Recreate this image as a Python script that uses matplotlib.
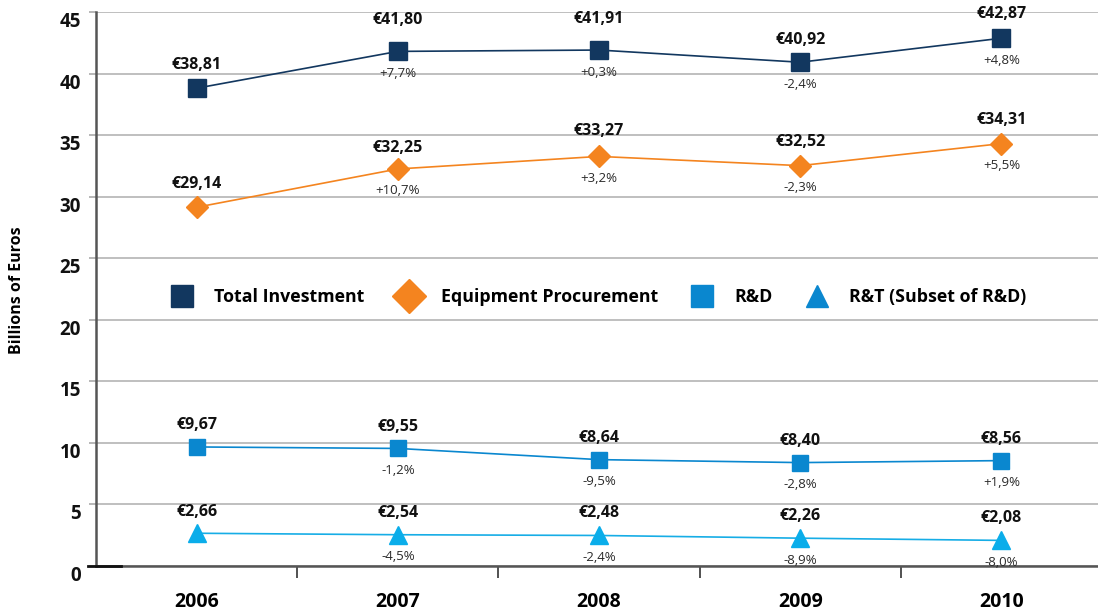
import matplotlib
matplotlib.use("Agg")
import matplotlib.pyplot as plt
from matplotlib.lines import Line2D

plt.rcParams['font.family'] = ['Open Sans', 'DejaVu Sans']

years = ["2006", "2007", "2008", "2009", "2010"]
total_investment = [38.81, 41.80, 41.91, 40.92, 42.87]
equipment_procurement = [29.14, 32.25, 33.27, 32.52, 34.31]
r_and_d = [9.67, 9.55, 8.64, 8.40, 8.56]
r_and_t = [2.66, 2.54, 2.48, 2.26, 2.08]

total_pct = ["", "+7,7%", "+0,3%", "-2,4%", "+4,8%"]
equip_pct = ["", "+10,7%", "+3,2%", "-2,3%", "+5,5%"]
rd_pct = ["", "-1,2%", "-9,5%", "-2,8%", "+1,9%"]
rt_pct = ["", "-4,5%", "-2,4%", "-8,9%", "-8,0%"]

yticks = [0, 5, 10, 15, 20, 25, 30, 35, 40, 45]

W, H = 1098, 612
fig = plt.figure(figsize=(W / 100, H / 100), dpi=100)
ax = fig.add_axes([96 / W, 1 - 566 / H, 1 - 96 / W, (566 - 12) / H])
x = list(range(len(years)))

px = 0.72  # points per pixel at 100 dpi

series = [
    ("Total Investment", total_investment, total_pct, "#12375f", "#12375f", "s", 12.5, [23, 31, 31, 22, 24]),
    ("Equipment Procurement", equipment_procurement, equip_pct, "#f4841f", "#f4841f", "D", 11, [23, 21, 25, 24, 24]),
    ("R&D", r_and_d, rd_pct, "#0a87cf", "#0a87cf", "s", 12, [22, 21, 22, 22, 22]),
    ("R&T (Subset of R&D)", r_and_t, rt_pct, "#16ade6", "#0aadea", "^", 12.5, [21, 22, 22, 22, 22]),
]

for name, vals, pcts, lc, mc, mk, ms, offs in series:
    ax.plot(x, vals, color=lc, lw=1.2, marker=mk, markersize=ms,
            markerfacecolor=mc, markeredgecolor=mc, zorder=3)
    for xi, v, p, o in zip(x, vals, pcts, offs):
        ax.annotate("€" + f"{v:.2f}".replace(".", ","), (xi, v),
                    xytext=(0, o * px), textcoords="offset points",
                    ha="center", va="center", fontsize=11.5, fontweight="bold",
                    color="#111111")
        if p:
            ax.annotate(p, (xi, v), xytext=(0, -22 * px), textcoords="offset points",
                        ha="center", va="center", fontsize=9.5, color="#2a2a2a")

# legend proxies
handles = []
leg_sizes = {"s": 15.5, "D": 17, "^": 16}
for name, vals, pcts, lc, mc, mk, ms, offs in series:
    legc = "#0a87cf" if mk == "^" else mc
    h = Line2D([], [], linestyle="none", marker=mk, markersize=leg_sizes[mk],
               markerfacecolor=legc, markeredgecolor=legc, label=name)
    handles.append(h)
leg = ax.legend(handles=handles, loc="center", bbox_to_anchor=(0.5, 0.486), ncol=4,
                frameon=False, prop={"weight": "bold", "size": 12.8},
                handletextpad=1.0, columnspacing=1.7, handlelength=1.6)

ax.set_xlim(-0.5, 4.48)
ax.set_ylim(0, 45)
ax.set_yticks(yticks)
ax.set_yticklabels([])
ax.tick_params(axis="y", length=5, color="#aaaaaa", width=1.2)
for t in yticks:
    ax.annotate(str(t), (0, t), xycoords=("axes fraction", "data"),
                xytext=(-15 * px, -10 * px), textcoords="offset points",
                ha="right", va="center", fontsize=13.5, fontweight="bold",
                color="#111111", annotation_clip=False)
ax.yaxis.grid(True, color="#b4b4b4", lw=1.2)
ax.set_axisbelow(True)

ax.set_xticks([0.5, 1.5, 2.5, 3.5])
ax.set_xticklabels([])
ax.tick_params(axis="x", which="major", length=12 * px, width=1.2, color="#333333", direction="out")
ax.set_xticks(x, minor=True)
ax.set_xticklabels(years, minor=True, fontsize=14, fontweight="bold")
ax.tick_params(axis="x", which="minor", length=0, pad=19)

for s in ["top", "right"]:
    ax.spines[s].set_visible(False)
ax.spines["left"].set_color("#555555")
ax.spines["left"].set_linewidth(1.8)
ax.spines["bottom"].set_color("#555555")
ax.spines["bottom"].set_linewidth(1.8)

# short dark stub at the axis origin
fig.add_artist(Line2D([88 / W, 121 / W], [1 - 566 / H, 1 - 566 / H],
                      color="#111111", lw=2.0))

fig.text(17 / W, 1 - 290 / H, "Billions of Euros", rotation=90, ha="center", va="center",
         fontsize=11.5, fontweight="bold")

fig.savefig("out.png", dpi=100)
